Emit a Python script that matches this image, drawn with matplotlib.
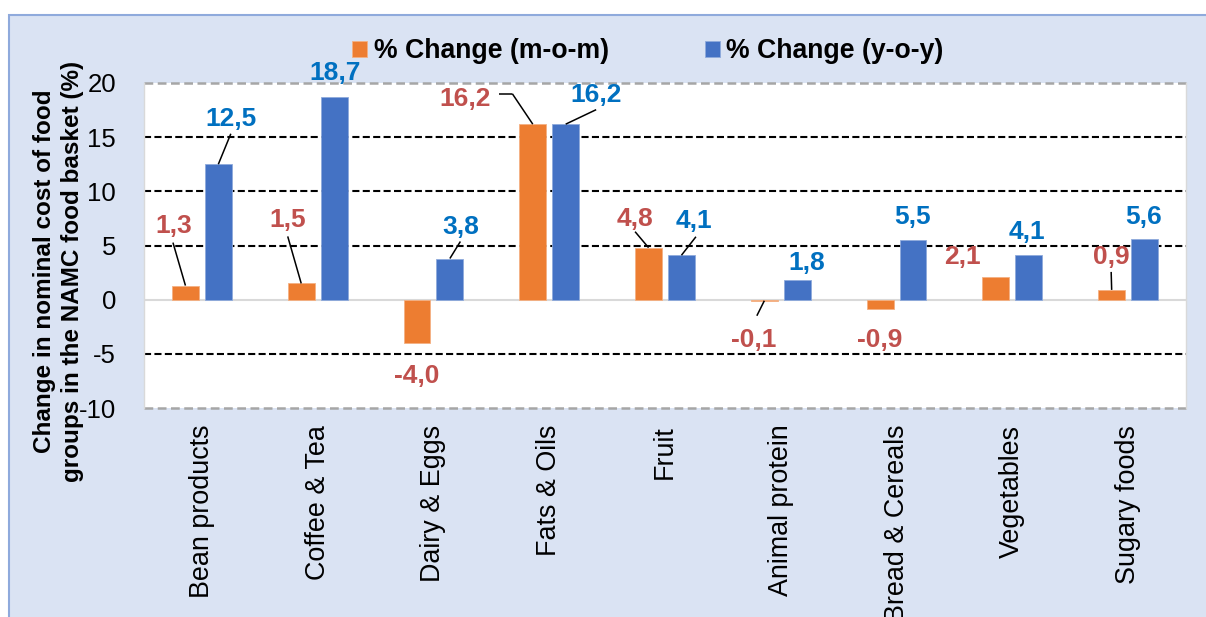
import matplotlib
matplotlib.use("Agg")
import matplotlib.pyplot as plt
from matplotlib.patches import Rectangle
import numpy as np

plt.rcParams['font.family'] = ['Liberation Sans', 'DejaVu Sans']

# ---- data ----
categories = ["Bean products", "Coffee & Tea", "Dairy & Eggs", "Fats & Oils", "Fruit",
              "Animal protein", "Bread & Cereals", "Vegetables", "Sugary foods"]
mom = [1.3, 1.5, -4.0, 16.2, 4.8, -0.1, -0.9, 2.1, 0.9]
yoy = [12.5, 18.7, 3.8, 16.2, 4.1, 1.8, 5.5, 4.1, 5.6]
series_names = ["% Change (m-o-m)", "% Change (y-o-y)"]
yticks = [-10, -5, 0, 5, 10, 15, 20]
ylabel = "Change in nominal cost of food\ngroups in the NAMC food basket (%)"

# ---- label placement (pixel offsets from bar end) ----
mom_lab_off = [(-11.5, 63), (-13.5, 66), (-0.5, -30), (-67.5, 28.5), (-13.5, 32),
               (-10.5, -36), (-0.5, -28), (-33.5, 23), (-0.5, 36)]
mom_line = [[(-12.5, 43)], [(-13.5, 47)], None, [(-33.5, 30.5), (-20.5, 30.5)],
            [(-13.5, 16)], [(-7.5, -15)], None, None, [(-0.5, 18)]]
yoy_lab_off = [(12.5, 48), (0.5, 27.5), (10.5, 34), (30.5, 32.5), (12.5, 37.5),
               (9.5, 20.5), (-0.5, 26.5), (-1.5, 26.5), (-0.5, 25.5)]
yoy_line = [[(12.5, 30.5)], None, [(10.5, 17)], [(30.5, 14.5)], [(14.5, 18.5)],
            None, None, None, None]

C_ORANGE = "#ED7D31"
C_BLUE = "#4472C4"
T_RED = "#C0504D"
T_BLUE = "#0070C0"
BG = "#DAE3F3"

W, H = 1206, 617
fig = plt.figure(figsize=(W / 100, H / 100), dpi=100, facecolor="white")
bg = Rectangle((9 / W, -0.01), 1.02 - 9 / W, 1 - 15 / H + 0.01,
               transform=fig.transFigure, facecolor=BG,
               edgecolor="#8FAADC", linewidth=1.5, zorder=-10)
fig.patches.append(bg)

ax = fig.add_axes([144 / W, 1 - 408 / H, (1186 - 144) / W, (408 - 83) / H])
ax.set_zorder(1)
ax.set_facecolor("white")

x = np.arange(len(categories))
bw = 0.233
off = 0.142
b1 = ax.bar(x - off, mom, bw, color=C_ORANGE, edgecolor="#F4B183", linewidth=0.6, zorder=3,
            label=series_names[0])
b2 = ax.bar(x + off, yoy, bw, color=C_BLUE, edgecolor="#8FAADC", linewidth=0.6, zorder=3,
            label=series_names[1])

ax.set_xlim(-0.5, len(categories) - 0.5)
ax.set_ylim(yticks[0], yticks[-1])
ax.set_yticks(yticks)
ax.set_yticklabels([str(t) for t in yticks], fontsize=18.5)
ax.tick_params(axis='y', length=0, pad=20)
ax.set_xticks(x)
ax.set_xticklabels(categories, rotation=90, fontsize=19.4, va='top', ha='center')
ax.tick_params(axis='x', length=0, pad=12)

for sp in ["top", "bottom"]:
    ax.spines[sp].set_visible(False)
for sp in ["left", "right"]:
    ax.spines[sp].set_color("#D9D9D9")
    ax.spines[sp].set_linewidth(1.0)

for t in yticks:
    if t == 0:
        ax.axhline(t, color="#D9D9D9", lw=1.5, zorder=2)
    elif t in (yticks[0], yticks[-1]):
        ax.axhline(t, color="#A6A6A6", lw=1.8, ls=(0, (3.5, 1.8)), zorder=2, clip_on=False)
    else:
        ax.axhline(t, color="black", lw=1.5, ls=(0, (3.4, 1.6)), zorder=1)


def fmt(v):
    return f"{v:.1f}".replace(".", ",")


def label_bars(xs, vals, offs, lines, tcolor):
    for xi, v, (dx, dy), ln in zip(xs, vals, offs, lines):
        ax.annotate(fmt(v), xy=(xi, v), xytext=(dx, dy - 3), textcoords='offset pixels',
                    ha='center', va='center', fontsize=19, fontweight='bold',
                    color=tcolor, zorder=5, annotation_clip=False)
        if ln:
            pts = list(ln) + [(0, 0)]
            disp = ax.transData.transform((xi, v))
            inv = ax.transData.inverted()
            for (xa, ya), (xb, yb) in zip(pts[:-1], pts[1:]):
                d1 = inv.transform(disp + np.array([xa, ya]))
                d2 = inv.transform(disp + np.array([xb, yb]))
                ax.plot([d1[0], d2[0]], [d1[1], d2[1]], color='black', lw=1.1,
                        zorder=4, clip_on=False, solid_capstyle='butt')


label_bars(x - off, mom, mom_lab_off, mom_line, T_RED)
label_bars(x + off, yoy, yoy_lab_off, yoy_line, T_BLUE)

leg = ax.legend(handles=[b1, b2], loc='center', bbox_to_anchor=(648 / W, 1 - 51 / H),
                bbox_transform=fig.transFigure, ncol=2, frameon=False,
                prop={'size': 19.2, 'weight': 'bold'}, handlelength=0.55,
                handleheight=0.55, handletextpad=0.25, columnspacing=3.6)

fig.text(58.5 / W, 1 - 271 / H, ylabel, rotation=90, ha='center', va='center',
         fontsize=17.5, fontweight='bold', multialignment='center', linespacing=1.3)

fig.savefig("out.png", dpi=100, facecolor=fig.get_facecolor())
